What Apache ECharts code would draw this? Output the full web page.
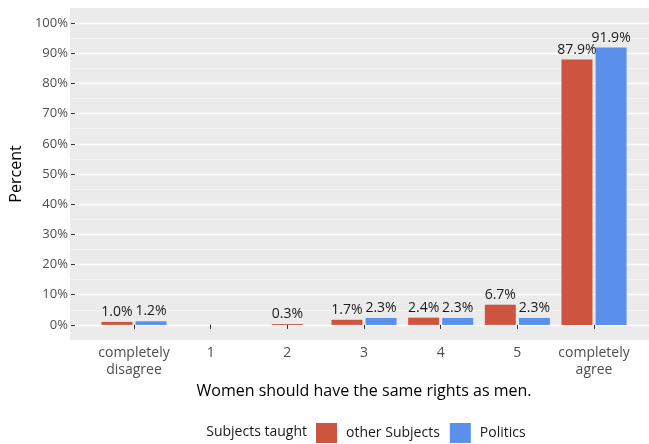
<!DOCTYPE html>
<html><head><meta charset="utf-8">
<script src="https://cdn.jsdelivr.net/npm/echarts@6/dist/echarts.min.js"></script>
<style>html,body{margin:0;padding:0;background:#fff}#c{width:649px;height:444px}</style>
</head><body><div id="c"></div>
<script>
var categories = ['completely\ndisagree', '1', '2', '3', '4', '5', 'completely\nagree'];
var otherSubjects = [1.0, null, 0.3, 1.7, 2.4, 6.7, 87.9];
var politics = [1.2, null, null, 2.3, 2.3, 2.3, 91.9];
var yTicks = [0, 10, 20, 30, 40, 50, 60, 70, 80, 90, 100];
var seriesNames = ['other Subjects', 'Politics'];
var legendTitle = 'Subjects taught';
var xTitle = 'Women should have the same rights as men.';
var yTitle = 'Percent';

var RED = '#CD5540', BLUE = '#5A8FEC';
var FONT = 'Open Sans';
var otherPaired = otherSubjects.map(function (v, i) { return politics[i] == null ? null : v; });
var otherSingle = otherSubjects.map(function (v, i) { return politics[i] == null ? v : null; });

var chart = echarts.init(document.getElementById('c'));
var pxPer = 332 / 110;
var y0 = 8 + 105 * pxPer, y100 = 8 + 5 * pxPer;
var step = 76.67;
var barLabel = {
  show: true, position: 'top', distance: 3,
  formatter: function (p) { return p.value.toFixed(1) + '%'; },
  fontFamily: FONT, fontSize: 14, color: '#1a1a1a'
};
chart.setOption({
  animation: false,
  textStyle: { fontFamily: FONT },
  grid: [
    { left: 70, top: 8, width: 588, height: 332, show: true, backgroundColor: '#EBEBEB', borderWidth: 0 },
    { left: 70, top: y100, width: 588, height: y0 - y100 },
    { left: 134 - step / 2, top: y100, width: step * 7, height: y0 - y100 }
  ],
  xAxis: [
    { gridIndex: 0, type: 'value', show: false },
    { gridIndex: 1, type: 'value', show: false },
    { gridIndex: 2, type: 'category', data: categories, offset: 8 + 332 - y0,
      axisLine: { show: false },
      axisTick: { show: true, alignWithLabel: true, length: 4, lineStyle: { color: '#333' } },
      axisLabel: { color: '#4D4D4D', fontSize: 14, margin: 5, lineHeight: 17, fontFamily: FONT, interval: 0 },
      name: xTitle, nameLocation: 'middle', nameGap: 40,
      nameTextStyle: { color: '#000', fontSize: 16, fontFamily: FONT } },
    { gridIndex: 2, type: 'category', data: categories, show: false }
  ],
  yAxis: [
    { gridIndex: 0, type: 'value', min: -5, max: 105, interval: 10,
      axisLine: { show: false }, axisTick: { show: false }, axisLabel: { show: false },
      splitLine: { show: true, showMinLine: false, showMaxLine: false, lineStyle: { color: '#F5F5F5', width: 1 } } },
    { gridIndex: 1, type: 'value', min: yTicks[0], max: yTicks[yTicks.length - 1], interval: 10,
      axisLine: { show: false },
      axisTick: { show: true, length: 4, lineStyle: { color: '#333' } },
      axisLabel: { color: '#4D4D4D', fontSize: 13, margin: 7, fontFamily: FONT, formatter: '{value}%' },
      splitLine: { show: true, lineStyle: { color: '#FFFFFF', width: 1.4 } },
      name: yTitle, nameLocation: 'middle', nameGap: 43, nameRotate: 90,
      nameTextStyle: { color: '#000', fontSize: 16, fontFamily: FONT } },
    { gridIndex: 2, type: 'value', min: yTicks[0], max: yTicks[yTicks.length - 1], show: false }
  ],
  legend: {
    data: seriesNames, left: 316, top: 423, padding: 0, itemWidth: 21, itemHeight: 20, itemGap: 10,
    icon: 'rect', textStyle: { color: '#1a1a1a', fontSize: 14, fontFamily: FONT, padding: [0, 0, 0, 4] }
  },
  graphic: [
    { type: 'text', right: 649 - 307, top: 425, style: { text: legendTitle, fill: '#1a1a1a', fontSize: 14, fontFamily: FONT } }
  ],
  series: [
    { name: seriesNames[0], type: 'bar', xAxisIndex: 2, yAxisIndex: 2, data: otherPaired,
      barWidth: 31, barGap: '10%', itemStyle: { color: RED }, label: barLabel },
    { name: seriesNames[1], type: 'bar', xAxisIndex: 2, yAxisIndex: 2, data: politics,
      barWidth: 31, barGap: '10%', itemStyle: { color: BLUE }, label: barLabel },
    { name: seriesNames[0], type: 'bar', xAxisIndex: 3, yAxisIndex: 2, data: otherSingle,
      barWidth: 31, itemStyle: { color: RED }, label: barLabel }
  ]
});
</script></body></html>
